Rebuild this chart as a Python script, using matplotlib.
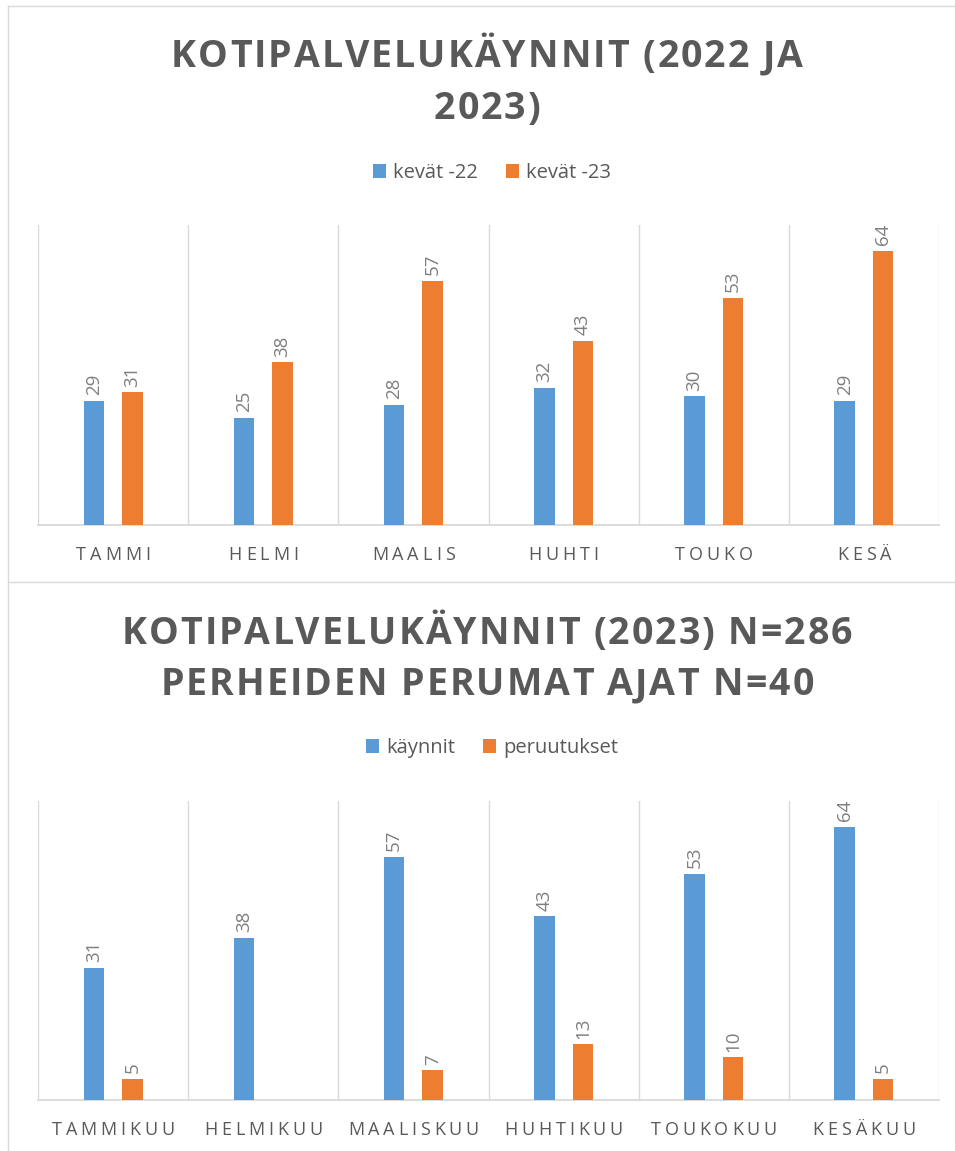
import numpy as np
import matplotlib
matplotlib.use("Agg")
import matplotlib.pyplot as plt
from matplotlib.lines import Line2D
from matplotlib.font_manager import FontProperties, findfont, get_font
try:
    from matplotlib.ft2font import LoadFlags
    NOH = LoadFlags.NO_HINTING
except Exception:
    from matplotlib.ft2font import LOAD_NO_HINTING as NOH

# ---------------- data ----------------
months_top = ["TAMMI", "HELMI", "MAALIS", "HUHTI", "TOUKO", "KESÄ"]
kevat22 = [29, 25, 28, 32, 30, 29]
kevat23 = [31, 38, 57, 43, 53, 64]
series_top = ["kevät -22", "kevät -23"]
title_top = ["KOTIPALVELUKÄYNNIT (2022 JA", "2023)"]

months_bot = ["TAMMIKUU", "HELMIKUU", "MAALISKUU", "HUHTIKUU", "TOUKOKUU", "KESÄKUU"]
kaynnit = [31, 38, 57, 43, 53, 64]
peruutukset = [5, None, 7, 13, 10, 5]
series_bot = ["käynnit", "peruutukset"]
title_bot = ["KOTIPALVELUKÄYNNIT (2023) N=286", "PERHEIDEN PERUMAT AJAT N=40"]

# ---------------- style ----------------
W, H = 955, 1151
DPI = 100
BLUE = "#5B9BD5"
ORANGE = "#ED7D31"
GRID = "#D9D9D9"
TXT = "#595959"
LBL = "#7F7F7F"
FAM = ["Open Sans", "DejaVu Sans"]

fig = plt.figure(figsize=(W / DPI, H / DPI), dpi=DPI)
fig.patch.set_facecolor("white")


def fx(px):
    return px / W


def fy(py):
    return 1 - py / H


def spaced(s, cx, y, fp, track, color):
    font = get_font(findfont(fp))
    font.set_size(fp.get_size_in_points(), DPI)
    advs = []
    for ch in s:
        g = font.load_char(ord(ch), flags=NOH)
        advs.append(g.linearHoriAdvance / 65536.0)
    total = sum(advs) + track * (len(s) - 1)
    x = cx - total / 2
    for ch, adv in zip(s, advs):
        if ch != " ":
            fig.text(fx(x), fy(y), ch, fontproperties=fp, color=color,
                     ha="left", va="baseline")
        x += adv + track


def border_line(x0, y0, x1, y1):
    fig.add_artist(Line2D([fx(x0), fx(x1)], [fy(y0), fy(y1)],
                          transform=fig.transFigure, color=GRID, lw=1.0))


border_line(8, 6, W, 6)
border_line(8, 6, 8, H)
border_line(8, 582, W, 582)

title_fp = FontProperties(family=FAM, weight="bold", size=27)
cat_fp = FontProperties(family=FAM, size=13)
leg_fp = FontProperties(family=FAM, size=14.5)


def make_chart(top_px, bot_px, cats, s1, s2, names, titles, title_base,
               leg_y, cat_y):
    ax = fig.add_axes([fx(38), fy(bot_px), (939 - 38) / W, (bot_px - top_px) / H])
    x = np.arange(len(cats))
    off, wid = 0.128, 0.136
    v2 = [np.nan if v is None else v for v in s2]
    b1 = ax.bar(x - off, s1, wid, color=BLUE, zorder=3)
    b2 = ax.bar(x + off, v2, wid, color=ORANGE, zorder=3)
    for bars, vals in ((b1, s1), (b2, s2)):
        for rect, v in zip(bars, vals):
            if v is None:
                continue
            ax.annotate(str(v), (rect.get_x() + rect.get_width() / 2, v),
                        xytext=(0, 4), textcoords="offset points",
                        rotation=90, ha="center", va="bottom",
                        color=LBL, fontsize=13.5, family=FAM)
    ax.set_xlim(-0.5, len(cats) - 0.5)
    ax.set_ylim(0, 70)
    for b in np.arange(-0.5, len(cats), 1.0):
        ax.axvline(b, color=GRID, lw=1.0, zorder=1)
    for s in ("top", "left", "right"):
        ax.spines[s].set_visible(False)
    ax.spines["bottom"].set_color(GRID)
    ax.spines["bottom"].set_linewidth(1.3)
    ax.set_xticks([])
    ax.set_yticks([])
    ax.set_facecolor("none")
    # category labels (letter spaced)
    for i, c in enumerate(cats):
        px = ax.transData.transform((i, 0))[0]
        spaced(c, px, cat_y, cat_fp, 3.8, TXT)
    # titles
    for t, yb in zip(titles, title_base):
        spaced(t, 487, yb, title_fp, 2.0, TXT)
    # legend
    fig.legend([b1, b2], names, loc="center", bbox_to_anchor=(fx(492), fy(leg_y)),
               ncol=2, frameon=False, prop=leg_fp, labelcolor=TXT,
               handlelength=0.65, handleheight=0.65, handletextpad=0.35,
               columnspacing=1.4, borderaxespad=0, borderpad=0)
    return ax


make_chart(225, 525, months_top, kevat22, kevat23, series_top, title_top,
           [67, 119], 173, 560)
make_chart(801, 1100, months_bot, kaynnit, peruutukset, series_bot, title_bot,
           [644, 695], 748, 1135)

fig.savefig("out.png", dpi=DPI, facecolor="white")
